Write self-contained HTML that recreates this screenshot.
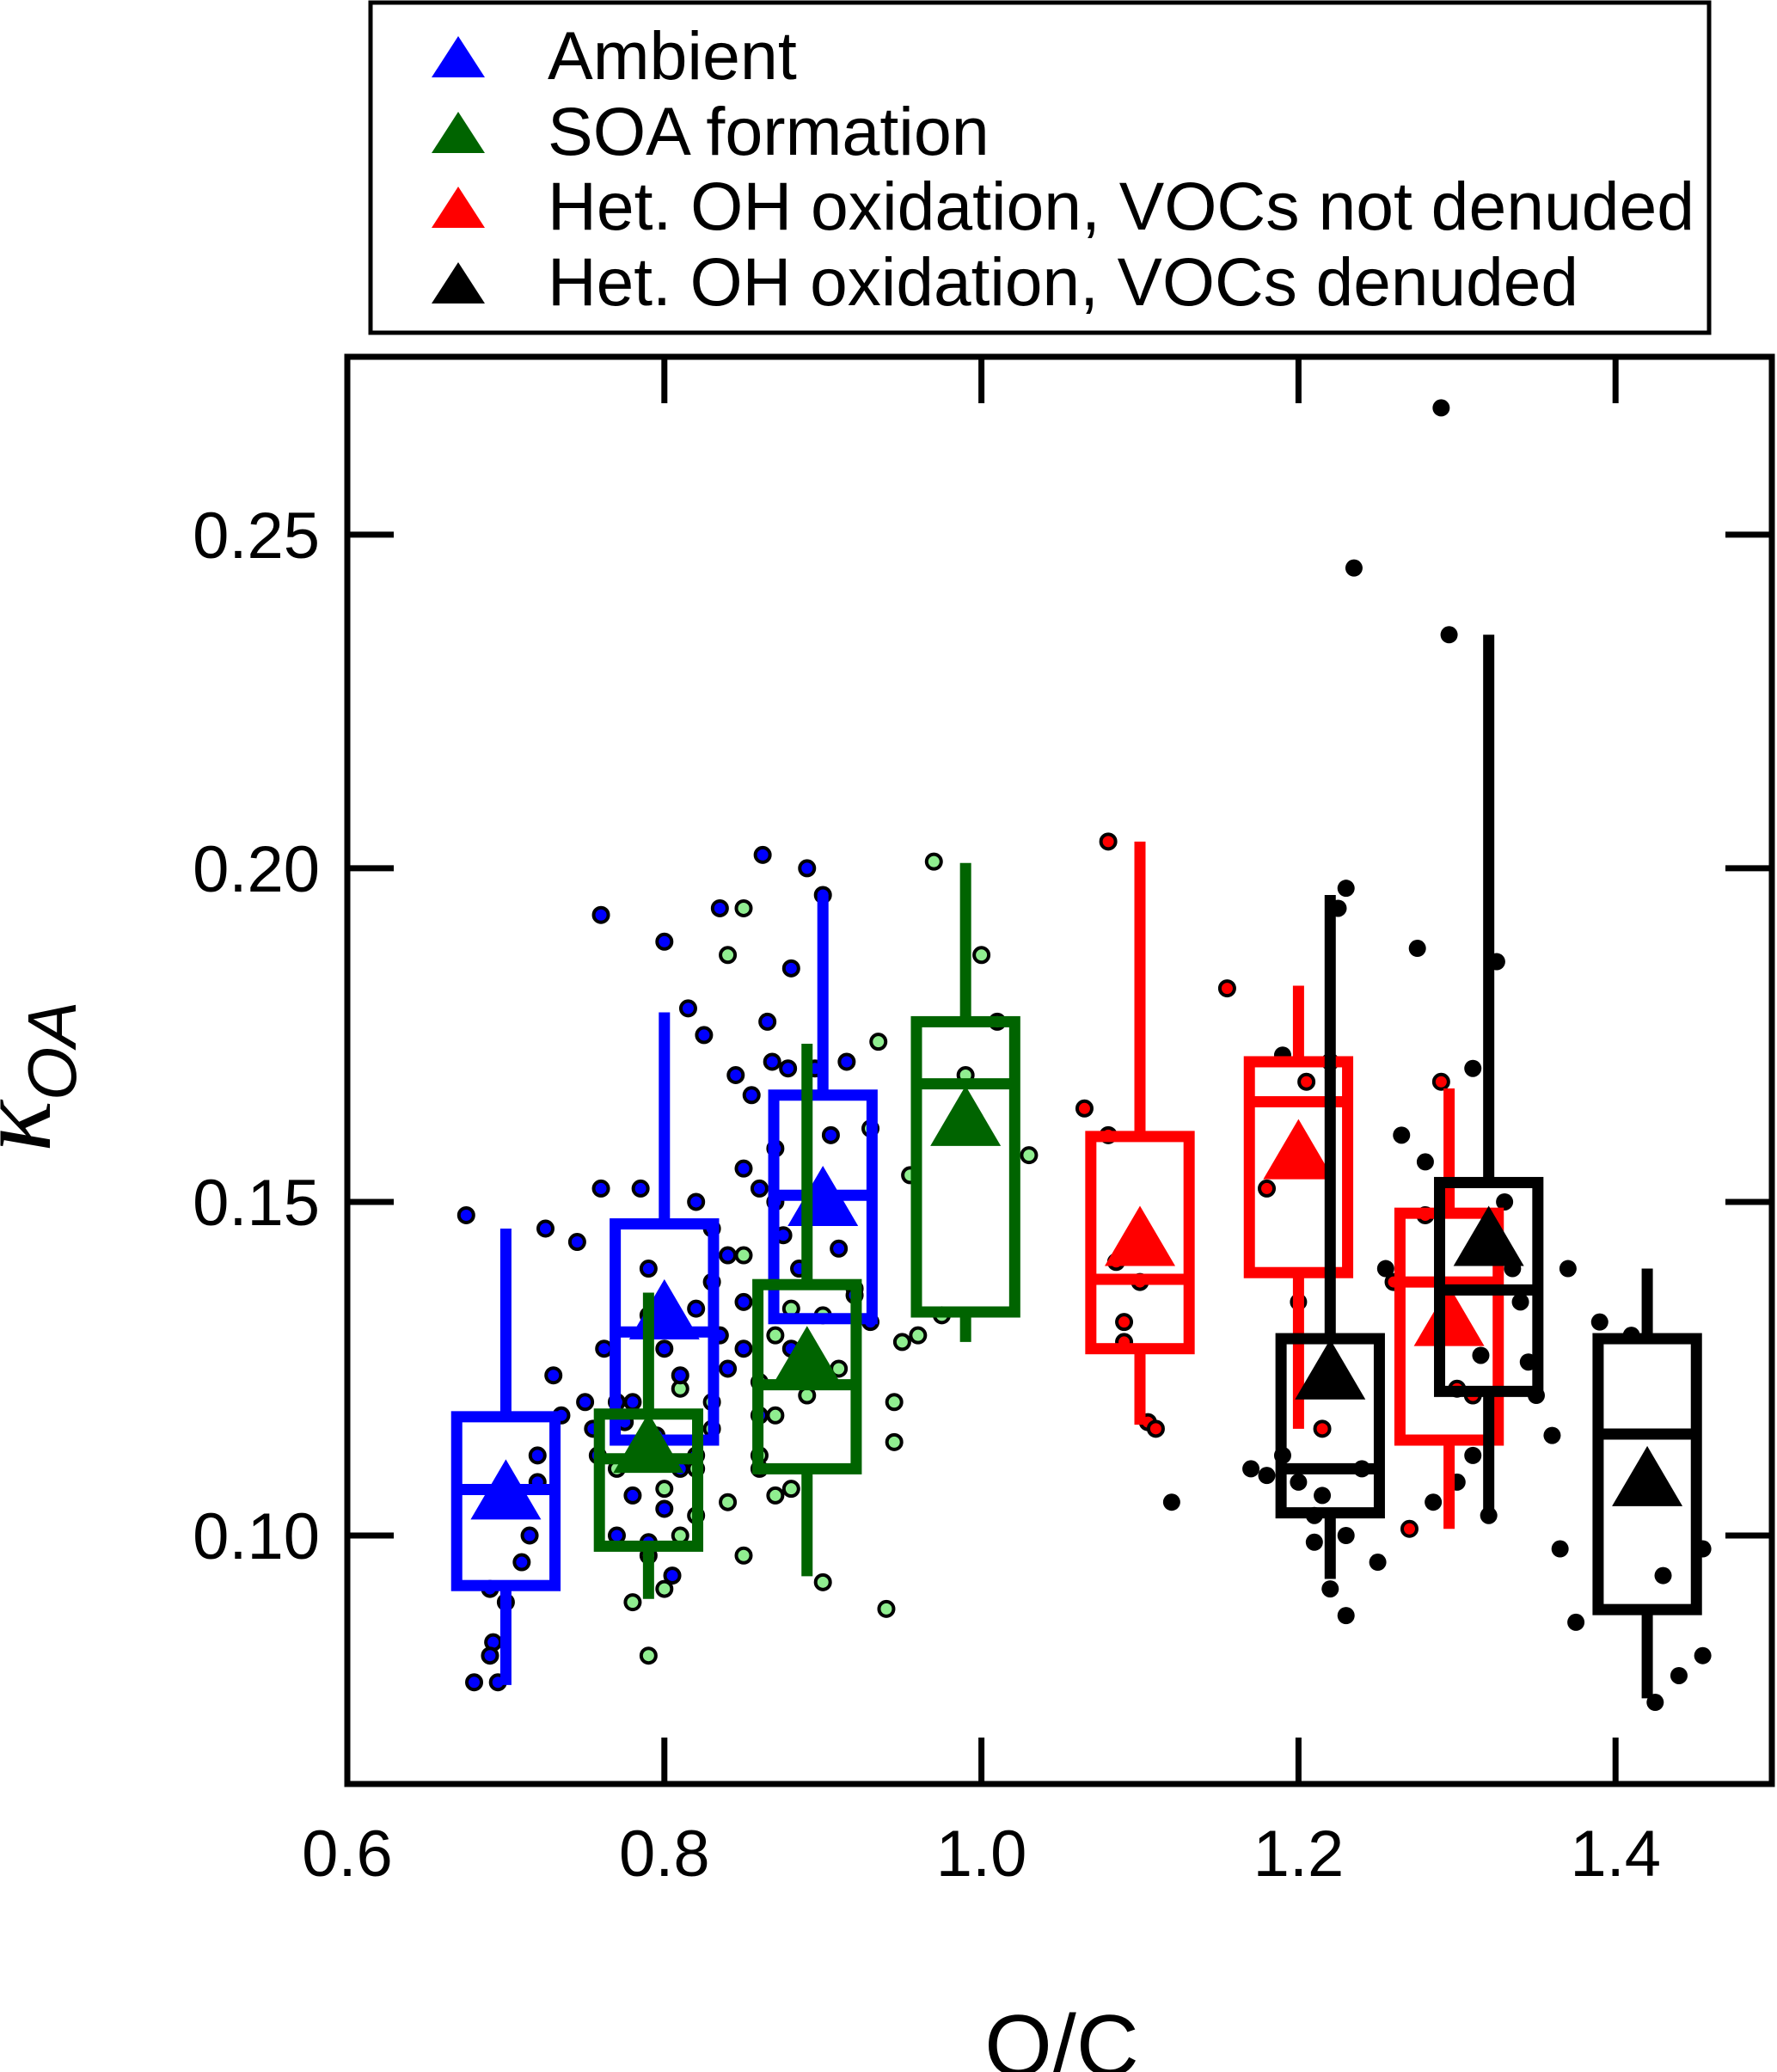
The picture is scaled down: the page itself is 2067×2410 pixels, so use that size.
<!DOCTYPE html>
<html><head><meta charset="utf-8"><style>html,body{margin:0;padding:0;background:#fff}svg{display:block}</style></head>
<body>
<svg id="chart" xmlns="http://www.w3.org/2000/svg" width="2067" height="2410" viewBox="0 0 2067 2410" font-family="Liberation Sans, Arial, sans-serif">
<rect x="0" y="0" width="2067" height="2410" fill="#fff"/>
<g id="legend">
<rect x="431" y="3" width="1557" height="384" fill="#fff" stroke="#000" stroke-width="5"/>
<g><polygon points="502,90 564,90 533,42" fill="#0000ff"/><text x="637" y="92" font-size="79">Ambient</text></g>
<g><polygon points="502,178 564,178 533,130" fill="#006400"/><text x="637" y="180" font-size="79">SOA formation</text></g>
<g><polygon points="502,265 564,265 533,217" fill="#ff0000"/><text x="637" y="267" font-size="79" textLength="1334" lengthAdjust="spacingAndGlyphs">Het. OH oxidation, VOCs not denuded</text></g>
<g><polygon points="502,353 564,353 533,305" fill="#000"/><text x="637" y="355" font-size="79" textLength="1199" lengthAdjust="spacingAndGlyphs">Het. OH oxidation, VOCs denuded</text></g>
</g>
<g id="plot"></g>
<text x="1235" y="2414" font-size="101" text-anchor="middle">O/C</text>
<g transform="translate(58,1340) rotate(-90)">
<text font-size="125"><tspan font-family="Liberation Serif, serif" font-style="italic">κ</tspan><tspan font-size="80" font-style="italic" dy="30">OA</tspan></text>
</g>
</svg>
<script>
const xTicks=[0.6,0.8,1.0,1.2,1.4];
const xTickLabels=["0.6","0.8","1.0","1.2","1.4"];
const yTicks=[0.10,0.15,0.20,0.25];
const yTickLabels=["0.10","0.15","0.20","0.25"];
const boxX=[0.70,0.80,0.90,0.79,0.89,0.99,1.10,1.20,1.295,1.22,1.32,1.42];
const boxColor=["#0000ff","#0000ff","#0000ff","#006400","#006400","#006400","#ff0000","#ff0000","#ff0000","#000","#000","#000"];
const boxWhiskLo=[0.0776,0.1143,0.1325,0.0905,0.0939,0.129,0.1166,0.116,0.101,0.0935,0.1034,0.0756];
const boxQ1=[0.0925,0.1143,0.1325,0.0984,0.110,0.1335,0.128,0.1394,0.1143,0.1034,0.1216,0.0889];
const boxMed=[0.1069,0.1305,0.151,0.1115,0.1226,0.1677,0.1384,0.165,0.138,0.110,0.1368,0.1152];
const boxQ3=[0.1178,0.1467,0.166,0.1182,0.1376,0.177,0.1598,0.171,0.1483,0.1295,0.1529,0.1295];
const boxWhiskHi=[0.146,0.1784,0.196,0.1364,0.1737,0.2008,0.204,0.1824,0.167,0.196,0.235,0.140];
const boxMean=[0.106,0.133,0.150,0.113,0.126,0.162,0.144,0.157,0.132,0.124,0.144,0.108];
const blueX=[0.675,0.69,0.692,0.69,0.695,0.68,0.70,0.71,0.715,0.72,0.72,0.725,0.73,0.735,0.745,0.75,0.755,0.758,0.76,0.762,0.76,0.77,0.775,0.78,0.785,0.79,0.79,0.795,0.8,0.80,0.805,0.81,0.815,0.82,0.82,0.825,0.83,0.835,0.84,0.845,0.85,0.85,0.855,0.86,0.862,0.865,0.868,0.87,0.875,0.878,0.88,0.885,0.89,0.895,0.9,0.905,0.91,0.915,0.92,0.93,0.87,0.84,0.85,0.88,0.86,0.835,0.82,0.80,0.78,0.77,0.79,0.81,0.83];
const blueY=[0.148,0.092,0.084,0.082,0.078,0.078,0.09,0.096,0.1,0.108,0.112,0.146,0.124,0.118,0.144,0.12,0.116,0.112,0.152,0.128,0.193,0.12,0.117,0.106,0.152,0.14,0.133,0.115,0.189,0.104,0.094,0.124,0.179,0.15,0.134,0.175,0.146,0.194,0.142,0.169,0.155,0.128,0.166,0.152,0.202,0.177,0.171,0.158,0.145,0.17,0.185,0.14,0.2,0.17,0.196,0.16,0.143,0.171,0.136,0.132,0.15,0.125,0.135,0.128,0.118,0.13,0.112,0.128,0.12,0.1,0.099,0.11,0.138];
const greenX=[0.79,0.78,0.80,0.79,0.81,0.82,0.83,0.84,0.85,0.86,0.86,0.87,0.87,0.88,0.89,0.9,0.9,0.91,0.92,0.93,0.935,0.94,0.945,0.945,0.95,0.955,0.96,0.97,0.975,0.99,1.0,1.01,1.03,0.85,0.84,0.85,0.86,0.87,0.88,0.83,0.82,0.80,0.81,0.77];
const greenY=[0.082,0.09,0.092,0.097,0.1,0.11,0.12,0.105,0.097,0.112,0.123,0.13,0.106,0.134,0.121,0.093,0.133,0.125,0.137,0.161,0.174,0.089,0.12,0.114,0.129,0.154,0.13,0.201,0.133,0.169,0.187,0.177,0.157,0.194,0.187,0.142,0.11,0.118,0.107,0.116,0.103,0.107,0.122,0.11];
const redX=[1.08,1.065,1.08,1.09,1.1,1.085,1.09,1.105,1.11,1.155,1.18,1.205,1.22,1.215,1.27,1.28,1.29,1.3,1.31,1.26];
const redY=[0.204,0.164,0.16,0.132,0.138,0.141,0.129,0.117,0.116,0.182,0.152,0.168,0.171,0.116,0.101,0.148,0.168,0.122,0.121,0.138];
const blackX=[1.12,1.17,1.18,1.19,1.2,1.21,1.21,1.215,1.22,1.23,1.23,1.225,1.23,1.235,1.24,1.25,1.255,1.265,1.275,1.28,1.285,1.29,1.295,1.30,1.31,1.315,1.32,1.325,1.33,1.335,1.34,1.345,1.35,1.36,1.37,1.365,1.375,1.39,1.41,1.43,1.425,1.44,1.455,1.455,1.2,1.19,1.31];
const blackY=[0.105,0.11,0.109,0.112,0.108,0.103,0.099,0.106,0.092,0.1,0.088,0.194,0.197,0.245,0.11,0.096,0.14,0.16,0.188,0.156,0.105,0.269,0.235,0.108,0.17,0.127,0.103,0.186,0.15,0.14,0.135,0.126,0.121,0.115,0.14,0.098,0.087,0.132,0.13,0.094,0.075,0.079,0.098,0.082,0.135,0.172,0.112];

const NS="http://www.w3.org/2000/svg";
const L=404,R=2061,T=415,B=2075;
function X(v){return L+(v-0.6)*1844;}
function Y(v){return 1786-(v-0.10)*7761;}
const plot=document.getElementById('plot');
function mk(tag,attrs,parent){const e=document.createElementNS(NS,tag);for(const k in attrs)e.setAttribute(k,attrs[k]);(parent||plot).appendChild(e);return e;}

function scatter(xs,ys,fill,stroke,r,name){
  const g=mk('g',{});
  
  
  for(let i=0;i<xs.length;i++){
    const c=mk('circle',{cx:X(xs[i]),cy:Y(ys[i]),r:r,fill:fill,stroke:stroke,'stroke-width':stroke==='none'?0:4},g);
    
    
  }
}
scatter(greenX,greenY,"#90ee90","#000",8.5,'soa-points');
scatter(blueX,blueY,"#0000ff","#000",8.5,'ambient-points');
scatter(redX,redY,"#ff0000","#000",8.5,'het-not-denuded-points');
scatter(blackX,blackY,"#000","none",10,'het-denuded-points');

const hw=0.031*1844;
for(let i=0;i<boxX.length;i++){
  const g=mk('g',{});
  
  
  const cx=X(boxX[i]),col=boxColor[i],sw=13;
  mk('line',{x1:cx,x2:cx,y1:Y(boxWhiskHi[i]),y2:Y(boxQ3[i]),stroke:col,'stroke-width':sw},g);
  mk('line',{x1:cx,x2:cx,y1:Y(boxQ1[i]),y2:Y(boxWhiskLo[i]),stroke:col,'stroke-width':sw},g);
  mk('rect',{x:cx-hw,y:Y(boxQ3[i]),width:2*hw,height:Y(boxQ1[i])-Y(boxQ3[i]),fill:'none',stroke:col,'stroke-width':sw},g);
  mk('line',{x1:cx-hw,x2:cx+hw,y1:Y(boxMed[i]),y2:Y(boxMed[i]),stroke:col,'stroke-width':sw},g);
  const my=Y(boxMean[i]);
  const t=mk('polygon',{points:`${cx-41},${my+28} ${cx+41},${my+28} ${cx},${my-42}`,fill:col},g);
  
  
}

const ax=mk('g',{});


mk('rect',{x:L,y:T,width:R-L,height:B-T,fill:'none',stroke:'#000','stroke-width':7},ax);
for(let i=0;i<xTicks.length;i++){
  const x=X(xTicks[i]);
  if(i>0){
    mk('line',{x1:x,x2:x,y1:B,y2:B-54,stroke:'#000','stroke-width':7},ax);
    mk('line',{x1:x,x2:x,y1:T,y2:T+54,stroke:'#000','stroke-width':7},ax);
  }
  const t=mk('text',{x:x,y:2182,'font-size':76,'text-anchor':'middle'},ax);
  t.textContent=xTickLabels[i];
  
  
}
for(let i=0;i<yTicks.length;i++){
  const y=Y(yTicks[i]);
  mk('line',{x1:L,x2:L+54,y1:y,y2:y,stroke:'#000','stroke-width':7},ax);
  mk('line',{x1:R,x2:R-54,y1:y,y2:y,stroke:'#000','stroke-width':7},ax);
  const t=mk('text',{x:372,y:y+27,'font-size':76,'text-anchor':'end'},ax);
  t.textContent=yTickLabels[i];
  
  
}
</script>
</body></html>
